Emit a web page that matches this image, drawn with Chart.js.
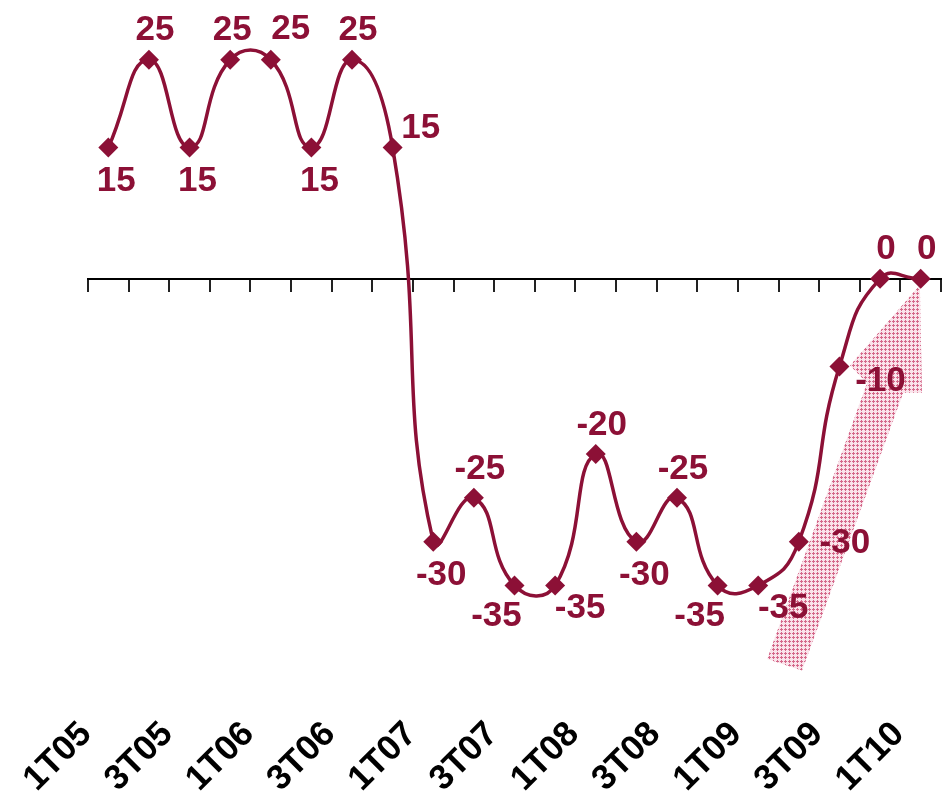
<!DOCTYPE html>
<html lang="es">
<head>
<meta charset="UTF-8">
<title>Saldo trimestral 1T05 - 1T10</title>
<script src="https://cdn.jsdelivr.net/npm/chart.js"></script>
<style>
  body { margin: 0; background: #fff; }
</style>
</head>
<body>
<canvas id="chart" width="944" height="797"></canvas>
<script>
const quarters = ['1T05','2T05','3T05','4T05','1T06','2T06','3T06','4T06','1T07','2T07','3T07',
                  '4T07','1T08','2T08','3T08','4T08','1T09','2T09','3T09','4T09','1T10'];
const values = [15, 25, 15, 25, 25, 15, 25, 15, -30, -25, -35, -35, -20, -30, -25, -35, -35, -30, -10, 0, 0];
// the axis only names every other quarter
const tickLabels = ['1T05','3T05','1T06','3T06','1T07','3T07','1T08','3T08','1T09','3T09','1T10'];

const wine = '#8c1036';
const font = '"Liberation Sans", Arial, sans-serif';

// where each value label sits around its point (hand placed in the original)
const labelSide = ['bottom','top','bottom','up','upRight','bottom','top','topRight','bottom','top','bottomLeft',
                   'bottomRight','top','bottom','top','bottomLeft','bottomRight','right','rightBottom','top','top'];
const nudge = {
  top: [6, -29], up: [2, -29], upRight: [20, -30], bottom: [8, 34], bottomLeft: [-18, 31],
  bottomRight: [25, 23], right: [46, 2], topRight: [28, -19], rightBottom: [41, 15]
};

// recovery arrow, in (quarter index, value) units
const arrowShape = [[16.22, -43.4], [17.08, -44.7], [19.57, -13], [20.03, -13],
                    [19.98, -0.7], [18.26, -9.9], [18.68, -11.9]];

function hatch(ctx) {
  const c = document.createElement('canvas');
  c.width = 4; c.height = 4;
  const g = c.getContext('2d');
  g.fillStyle = '#fae3ea';
  g.fillRect(0, 0, 4, 4);
  g.fillStyle = '#d4688a';
  g.fillRect(1, 0, 1, 3);
  g.fillRect(0, 1, 3, 1);
  return ctx.createPattern(c, 'repeat');
}

const trendArrow = {
  id: 'trendArrow',
  beforeDatasetsDraw(chart) {
    const { ctx, scales: { x, y } } = chart;
    ctx.save();
    ctx.beginPath();
    arrowShape.forEach(([i, v], k) => {
      const px = x.getPixelForValue(i), py = y.getPixelForValue(v);
      if (k) ctx.lineTo(px, py); else ctx.moveTo(px, py);
    });
    ctx.closePath();
    ctx.fillStyle = hatch(ctx);
    ctx.fill();
    ctx.restore();
  }
};

const pointLabels = {
  id: 'pointLabels',
  afterDatasetsDraw(chart) {
    const { ctx } = chart;
    const pts = chart.getDatasetMeta(0).data;
    ctx.save();
    ctx.font = 'bold 35px ' + font;
    ctx.fillStyle = wine;
    ctx.textAlign = 'center';
    ctx.textBaseline = 'middle';
    pts.forEach((p, i) => {
      const [dx, dy] = nudge[labelSide[i]];
      ctx.fillText(String(values[i]), p.x + dx, p.y + dy);
    });
    ctx.restore();
  }
};

new Chart(document.getElementById('chart'), {
  type: 'line',
  data: {
    labels: quarters,
    datasets: [{
      data: values,
      borderColor: wine,
      borderWidth: 3.5,
      tension: 0.5,
      pointStyle: 'rectRot',
      pointRadius: 10,
      pointBackgroundColor: wine,
      pointBorderColor: wine,
      pointBorderWidth: 0,
      clip: false
    }]
  },
  options: {
    responsive: false,
    animation: false,
    layout: { autoPadding: false, padding: { left: 88, right: 3, top: 16, bottom: 0 } },
    plugins: { legend: { display: false }, tooltip: { enabled: false } },
    scales: {
      x: {
        type: 'category',
        position: { y: 0 },
        offset: true,
        grid: { offset: true, drawOnChartArea: false, tickLength: 12, color: '#222', lineWidth: 2 },
        border: { color: '#000', width: 2 },
        ticks: { display: false }
      },
      xLabels: {
        type: 'category',
        position: 'bottom',
        offset: true,
        labels: quarters,
        grid: { display: false, drawTicks: false },
        border: { display: false },
        afterFit(scale) {
          // labels are free to hang past the plot edges
          scale.paddingLeft = 0;
          scale.paddingRight = 0;
        },
        ticks: {
          autoSkip: false,
          maxRotation: 45,
          minRotation: 45,
          labelOffset: -22,
          padding: -3,
          color: '#000',
          font: { family: font, size: 35, weight: 'bold' },
          callback: (v, i) => tickLabels.includes(quarters[i]) ? quarters[i] : ''
        }
      },
      y: { display: false, min: -50, max: 30 }
    }
  },
  plugins: [trendArrow, pointLabels]
});
</script>
</body>
</html>
